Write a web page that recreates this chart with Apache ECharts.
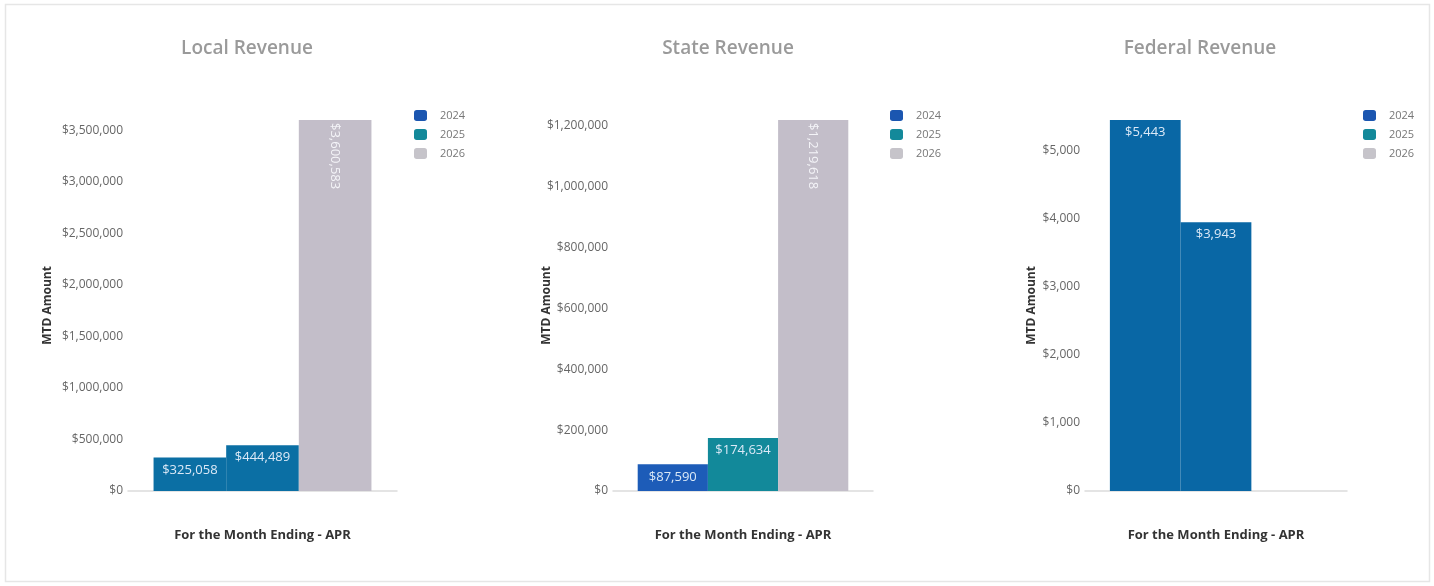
<!DOCTYPE html>
<html>
<head>
<meta charset="utf-8">
<script src="https://cdn.jsdelivr.net/npm/echarts@6/dist/echarts.min.js"></script>
<style>
  html, body { margin: 0; padding: 0; background: #fff; }
  #chart { width: 1434px; height: 586px; }
</style>
</head>
<body>
<div id="chart"></div>
<script>
// years shown in every panel
const years = ['2024', '2025', '2026'];
const category = ['APR'];
const panelTitles = ['Local Revenue', 'State Revenue', 'Federal Revenue'];

// MTD amounts per year, one array per panel
const localValues = [325058, 444489, 3600583];
const stateValues = [87590, 174634, 1219618];
const federalValues = [5443, 3943, null];

// y axis steps per panel
const yIntervals = [500000, 200000, 1000];

// legend swatch colours and the fills as they appear in each panel
const legendColors = ['#1b56b0', '#13899a', '#c6c4ca'];
const barFills = [
  ['#0b6fa4', '#0b6fa4', '#c3bec9'],
  ['#1d5cb8', '#12899a', '#c3bec9'],
  ['#0967a5', '#0967a5', '#c3bec9']
];
// which bars carry a vertical label
const rotatedLabel = [false, false, true];

const panels = [localValues, stateValues, federalValues];

// layout of each panel (pixels)
const gridLeft = [128, 613, 1085];
const gridWidth = [269, 260, 262];
const titleCenter = [247, 728, 1200];
const legendLeft = [414, 890, 1363];
const nameGap = [74, 60, 47];

const money = v => '$' + Math.round(v).toLocaleString('en-US');

const chart = echarts.init(document.getElementById('chart'));

const option = {
  animation: false,
  textStyle: { fontFamily: 'Open Sans' },
  graphic: [{
    type: 'rect',
    shape: { x: 5.5, y: 4.5, width: 1424, height: 577 },
    style: { fill: 'none', stroke: '#e6e6e6', lineWidth: 1.5 },
    silent: true
  }],
  title: [], legend: [], grid: [], xAxis: [], yAxis: [], series: []
};

panels.forEach((vals, p) => {
  option.title.push({
    text: panelTitles[p],
    left: titleCenter[p], top: 39, padding: 0,
    textAlign: 'center',
    textStyle: { fontSize: 19, fontWeight: 600, color: '#9a9a9a', fontFamily: 'Open Sans' }
  });
  option.legend.push({
    data: years,
    orient: 'vertical',
    left: legendLeft[p], top: 110, padding: 0,
    itemWidth: 13, itemHeight: 11, itemGap: 8,
    icon: 'roundRect',
    textStyle: { fontSize: 11, color: '#777', padding: [0, 0, 0, 8] },
    selectedMode: false
  });
  option.grid.push({ left: gridLeft[p], width: gridWidth[p], top: 120, bottom: 95 });
  option.xAxis.push({
    type: 'category', gridIndex: p, data: category,
    name: 'For the Month Ending - APR',
    nameLocation: 'middle', nameGap: 38,
    nameTextStyle: { fontSize: 13, fontWeight: 'bold', color: '#333' },
    axisLine: { lineStyle: { color: '#dcdcdc', width: 1.5 } },
    axisTick: { show: false },
    axisLabel: { show: false }
  });
  option.yAxis.push({
    type: 'value', gridIndex: p, min: 0, max: 'dataMax',
    interval: yIntervals[p],
    name: 'MTD Amount',
    nameLocation: 'middle', nameGap: nameGap[p],
    nameMoveOverlap: false,
    nameTextStyle: { fontSize: 12, fontWeight: 'bold', color: '#333' },
    axisLine: { show: false },
    axisTick: { show: false },
    splitLine: { show: false },
    axisLabel: { showMaxLabel: false, margin: 5, fontSize: 12, color: '#666', formatter: money }
  });
  years.forEach((y, i) => {
    option.series.push({
      name: y, type: 'bar',
      xAxisIndex: p, yAxisIndex: p,
      barGap: 0, barCategoryGap: '19%',
      itemStyle: { color: legendColors[i] },
      label: rotatedLabel[i]
        ? { show: true, position: 'insideTop', distance: 3, rotate: -90, align: 'left', verticalAlign: 'middle',
            fontSize: 13, color: '#f4f4f8', formatter: d => money(d.value) }
        : { show: true, position: 'insideTop', distance: 6,
            fontSize: 13, color: '#dbe9f7', formatter: d => money(d.value) },
      data: [vals[i] == null ? null : { value: vals[i], itemStyle: { color: barFills[p][i] } }]
    });
  });
});

chart.setOption(option);
</script>
</body>
</html>
